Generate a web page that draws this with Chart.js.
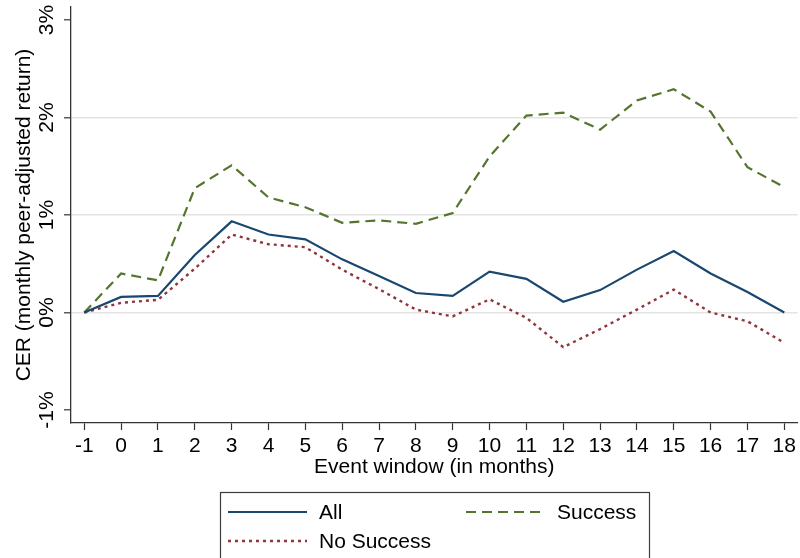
<!DOCTYPE html>
<html>
<head>
<meta charset="utf-8">
<title>CER by event month</title>
<script src="https://cdn.jsdelivr.net/npm/chart.js@4/dist/chart.umd.min.js"></script>
<style>
  html, body { margin: 0; padding: 0; background: #ffffff; }
  #wrap { width: 800px; height: 558px; position: relative; overflow: hidden; }
</style>
</head>
<body>
<div id="wrap"><canvas id="cer" width="800" height="558"></canvas></div>
<script>
// Event months relative to the event
const months = [-1, 0, 1, 2, 3, 4, 5, 6, 7, 8, 9, 10, 11, 12, 13, 14, 15, 16, 17, 18];

// Cumulative peer-adjusted returns, in percent
const cerAll       = [0, 0.16, 0.17, 0.59, 0.935, 0.80, 0.75, 0.545, 0.375, 0.20, 0.17, 0.42, 0.345, 0.11, 0.23, 0.44, 0.63, 0.40, 0.21, 0.0];
const cerSuccess   = [0, 0.40, 0.33, 1.275, 1.51, 1.18, 1.08, 0.92, 0.945, 0.91, 1.02, 1.60, 2.02, 2.05, 1.875, 2.175, 2.29, 2.06, 1.49, 1.285];
const cerNoSuccess = [0, 0.10, 0.13, 0.45, 0.80, 0.70, 0.67, 0.44, 0.24, 0.03, -0.04, 0.135, -0.055, -0.355, -0.17, 0.03, 0.235, 0.0, -0.09, -0.31];

// Y axis ticks and their labels
const yTickValues = [-1, 0, 1, 2, 3];
const yTickLabels = ['-1%', '0%', '1%', '2%', '3%'];
// Horizontal reference lines
const yGridValues = [0, 1, 2];

const FONT = '"Liberation Sans", Arial, Helvetica, sans-serif';
Chart.defaults.font.family = FONT;
Chart.defaults.color = '#000000';

const toPoints = (vals) => months.map((m, i) => ({ x: m, y: vals[i] }));

// Rotated y tick labels (reading bottom to top)
const rotatedYLabels = {
  id: 'rotatedYLabels',
  afterDraw(chart) {
    const s = chart.scales.y;
    const ctx = chart.ctx;
    ctx.save();
    ctx.fillStyle = '#000';
    ctx.font = '21px ' + FONT;
    ctx.textAlign = 'center';
    ctx.textBaseline = 'alphabetic';
    s.ticks.forEach((t) => {
      const idx = yTickValues.indexOf(t.value);
      if (idx < 0) return;
      const py = s.getPixelForValue(t.value);
      ctx.save();
      ctx.translate(s.right - 18, py);
      ctx.rotate(-Math.PI / 2);
      ctx.fillText(yTickLabels[idx], 0, 0);
      ctx.restore();
    });
    ctx.restore();
  }
};

// Boxed legend below the plot, line samples taken from each dataset's style
const boxedLegend = {
  id: 'boxedLegend',
  afterDraw(chart) {
    const ctx = chart.ctx;
    const ds = chart.data.datasets;
    const box = { x: 220.5, y: 492.5, w: 429, h: 80 };
    const slots = [
      { i: 0, x: 228, y: 512 },
      { i: 1, x: 466, y: 512 },
      { i: 2, x: 228, y: 541 }
    ];
    ctx.save();
    ctx.strokeStyle = '#3c3c3c';
    ctx.lineWidth = 1.2;
    ctx.strokeRect(box.x, box.y, box.w, box.h);
    ctx.font = '21px ' + FONT;
    ctx.textBaseline = 'middle';
    ctx.textAlign = 'left';
    slots.forEach((sl) => {
      const d = ds[sl.i];
      ctx.save();
      ctx.strokeStyle = d.borderColor;
      ctx.lineWidth = d.borderWidth;
      ctx.setLineDash(d.borderDash || []);
      ctx.beginPath();
      ctx.moveTo(sl.x, sl.y);
      ctx.lineTo(sl.x + 79, sl.y);
      ctx.stroke();
      ctx.restore();
      ctx.fillStyle = '#000';
      ctx.fillText(d.label, sl.x + 91, sl.y + 1);
    });
    ctx.restore();
  }
};

new Chart(document.getElementById('cer'), {
  type: 'line',
  data: {
    datasets: [
      {
        label: 'All',
        data: toPoints(cerAll),
        borderColor: '#1a476f',
        borderWidth: 2.2,
        borderDash: [],
        pointRadius: 0,
        tension: 0
      },
      {
        label: 'Success',
        data: toPoints(cerSuccess),
        borderColor: '#55752f',
        borderWidth: 2.2,
        borderDash: [10, 6],
        pointRadius: 0,
        tension: 0
      },
      {
        label: 'No Success',
        data: toPoints(cerNoSuccess),
        borderColor: '#90353b',
        borderWidth: 2.4,
        borderDash: [3, 4],
        pointRadius: 0,
        tension: 0
      }
    ]
  },
  options: {
    responsive: false,
    devicePixelRatio: 1,
    animation: false,
    layout: { padding: { top: 7, right: 1, bottom: 78, left: 0 } },
    plugins: {
      legend: { display: false },
      tooltip: { enabled: false }
    },
    scales: {
      x: {
        type: 'linear',
        min: -1.36,
        max: 18.36,
        afterBuildTicks: (s) => { s.ticks = months.map((v) => ({ value: v })); },
        afterFit: (s) => { s.height = 57; },
        border: { color: '#333333', width: 1.3 },
        grid: {
          drawOnChartArea: false,
          drawTicks: true,
          tickLength: 7,
          tickColor: '#333333',
          tickWidth: 1.2
        },
        ticks: {
          font: { size: 21 },
          color: '#000',
          padding: 4,
          maxRotation: 0,
          minRotation: 0,
          autoSkip: false,
          callback: (v) => String(v)
        },
        title: {
          display: true,
          text: 'Event window (in months)',
          font: { size: 21 },
          color: '#000',
          padding: { top: 0, bottom: 0 }
        }
      },
      y: {
        type: 'linear',
        min: -1.133,
        max: 3.133,
        afterBuildTicks: (s) => { s.ticks = yTickValues.map((v) => ({ value: v })); },
        afterFit: (s) => { s.width = 71; },
        border: { color: '#333333', width: 1.3 },
        grid: {
          color: (c) => (c.tick && yGridValues.includes(c.tick.value)) ? '#e3e3e3' : 'rgba(0,0,0,0)',
          lineWidth: 1.6,
          drawTicks: true,
          tickLength: 7,
          tickColor: '#333333',
          tickWidth: 1.2
        },
        ticks: { display: false },
        title: {
          display: true,
          text: 'CER (monthly peer-adjusted return)',
          font: { size: 21 },
          color: '#000',
          padding: { top: 12, bottom: 0 }
        }
      }
    }
  },
  plugins: [rotatedYLabels, boxedLegend]
});
</script>
</body>
</html>
